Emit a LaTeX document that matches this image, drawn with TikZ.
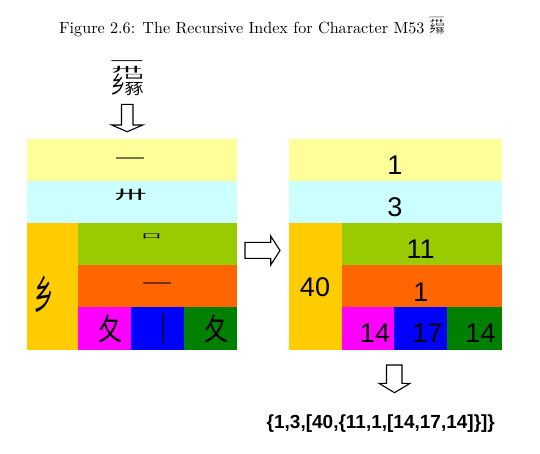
\documentclass[tikz,border=0pt]{standalone}
\usepackage{fontspec}
\usepackage{graphicx}
\newfontfamily\cjk{Noto Sans CJK SC}
\newfontfamily\arialf{Liberation Sans}
\definecolor{cYel}{HTML}{FFFF99}
\definecolor{cCya}{HTML}{CCFFFF}
\definecolor{cGold}{HTML}{FFCC00}
\definecolor{cLime}{HTML}{99CC00}
\definecolor{cOra}{HTML}{FF6600}
\definecolor{cMag}{HTML}{FF00FF}
\definecolor{cBlu}{HTML}{0000FF}
\definecolor{cGre}{HTML}{008000}
% the character M53, built from its components
\newcommand\mfivethree{{\cjk\fontsize{14}{14}\selectfont\setlength{\unitlength}{1pt}%
  \begin{picture}(30,35)(-15,-17.5)
    \put(0,15.5){\makebox(0,0){\scalebox{2.4}[0.8]{一}}}
    \put(0,9.5){\makebox(0,0){\scalebox{2.2}[0.55]{卅}}}
    \put(-8.5,-5){\makebox(0,0){\scalebox{1.0}[1.7]{乡}}}
    \put(7,2.5){\makebox(0,0){\scalebox{1.5}[0.4]{口}}}
    \put(7,-1.5){\makebox(0,0){\scalebox{1.25}[0.7]{一}}}
    \put(7,-10.5){\makebox(0,0){\scalebox{1.35}[1.1]{豩}}}
  \end{picture}}}
\tikzset{
  gridglyph/.style={inner sep=0pt, outer sep=0pt, font=\cjk\fontsize{16}{16}\selectfont},
  num/.style={inner sep=0pt, outer sep=0pt, font=\arialf\fontsize{27}{27}\selectfont},
  blockarrow/.style={draw=black, line width=1.1pt, fill=white, line join=miter}
}
\begin{document}
\begin{tikzpicture}[x=1pt,y=-1pt]
\useasboundingbox (0,0) rectangle (540,453);
% caption
\node[inner sep=0pt, anchor=base west, font=\fontsize{10}{12}\selectfont] (cap) at (59,33)
  {\scalebox{1.614}{Figure 2.6: The Recursive Index for Character M53 \raisebox{-0.8pt}{\scalebox{0.291}{\mfivethree}}}};
% main character
\node[inner sep=0pt, outer sep=0pt] (mainchar) at (127,79) {\mfivethree};
% down arrow top
\draw[blockarrow] (121.5,104.3) -- (133,104.3) -- (133,125) -- (142.7,125) -- (127.2,131.7)
  -- (111.7,125) -- (121.5,125) -- cycle;
% left grid
\fill[cYel] (26.7,139.3) rectangle (236.7,181);
\fill[cCya] (26.7,181) rectangle (236.7,223.3);
\fill[cGold] (26.7,223.3) rectangle (78.3,350);
\fill[cLime] (78.3,223.3) rectangle (236.7,265);
\fill[cOra] (78.3,265) rectangle (236.7,307.3);
\fill[cMag] (78.3,307.3) rectangle (131,350);
\fill[cBlu] (131,307.3) rectangle (184,350);
\fill[cGre] (184,307.3) rectangle (236.7,350);
\node[gridglyph] (g1) at (130,160.7) {\scalebox{1.9}[0.8]{一}};
\node[gridglyph] (g2) at (130.5,195.3) {\scalebox{2.0}[0.8]{卅}};
\node[gridglyph] (g3) at (151.5,236.5) {\scalebox{1.3}[0.4]{口}};
\node[gridglyph] (g4) at (157,285.7) {\scalebox{1.9}[0.8]{一}};
\node[gridglyph] (g5) at (44,294) {\scalebox{1.2}[2.5]{乡}};
\node[gridglyph] (g6) at (110,329) {\scalebox{1.5}[1.9]{夂}};
\node[gridglyph] (g7) at (163.3,328) {\scalebox{1}[2]{丨}};
\node[gridglyph] (g8) at (216.7,329) {\scalebox{1.5}[1.9]{夂}};
% right arrow
\draw[blockarrow] (245,242.3) -- (270.7,242.3) -- (270.7,236) -- (280,250.5) -- (270.7,265)
  -- (270.7,258.3) -- (245,258.3) -- cycle;
% right grid
\fill[cYel] (289.3,139.3) rectangle (501.7,181);
\fill[cCya] (289.3,181) rectangle (501.7,223.3);
\fill[cGold] (289.3,223.3) rectangle (341.7,350);
\fill[cLime] (341.7,223.3) rectangle (501.7,265);
\fill[cOra] (341.7,265) rectangle (501.7,307.3);
\fill[cMag] (341.7,307.3) rectangle (394.3,350);
\fill[cBlu] (394.3,307.3) rectangle (447.3,350);
\fill[cGre] (447.3,307.3) rectangle (501.7,350);
\node[num] (n1) at (395,165) {1};
\node[num] (n2) at (395,207) {3};
\node[num] (n3) at (420.6,249) {11};
\node[num] (n4) at (421,292.5) {1};
\node[num] (n5) at (315,287.5) {40};
\node[num] (n6) at (375,333) {14};
\node[num] (n7) at (427.5,333) {17};
\node[num] (n8) at (480.5,333) {14};
% bottom arrow
\draw[blockarrow] (386.5,365) -- (402,365) -- (402,383.3) -- (410,383.3) -- (394.5,392.7)
  -- (379,383.3) -- (386.5,383.3) -- cycle;
\node[inner sep=0pt, font=\arialf\bfseries\fontsize{19}{22}\selectfont] (res) at (380.8,423.8)
  {\{1,3,[40,\{11,1,[14,17,14]\}]\}};
\end{tikzpicture}
\end{document}
